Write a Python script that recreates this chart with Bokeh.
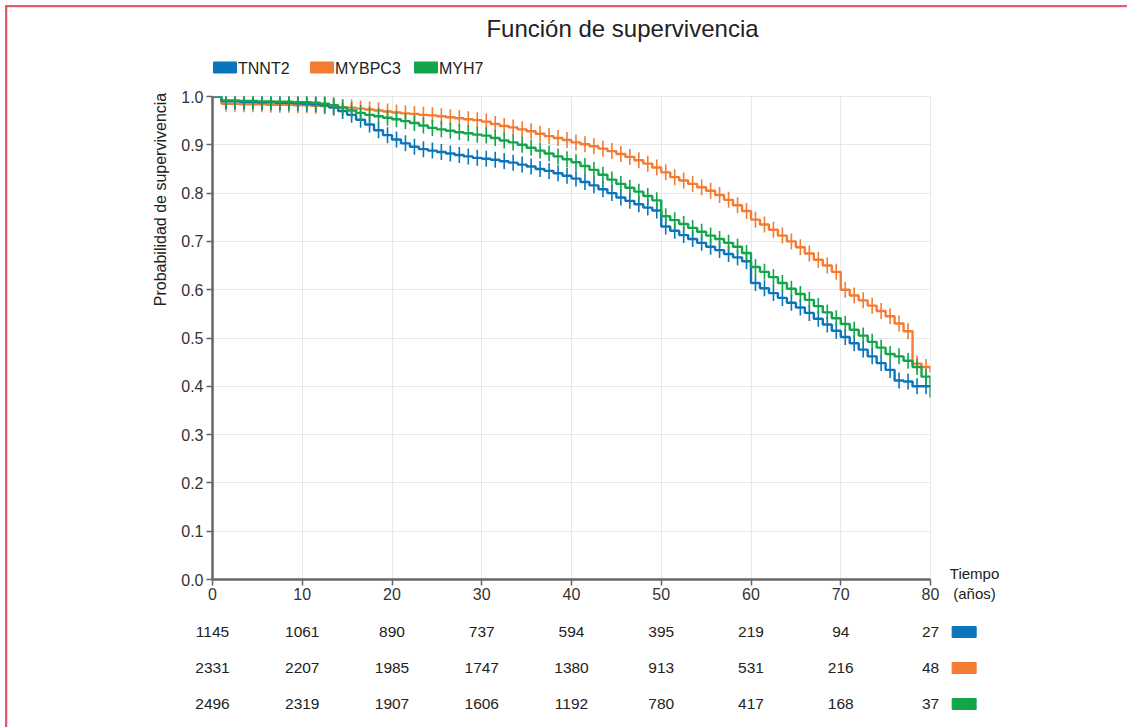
import numpy as np
from bokeh.plotting import figure
from bokeh.models import Range1d, FixedTicker, PrintfTickFormatter
from bokeh.layouts import column, row
from bokeh.embed import file_html
from bokeh.resources import INLINE
from bokeh.core.properties import value

# ---------------- data ----------------
years = list(range(0, 81))

tnnt2 = [1.000, 0.990, 0.990, 0.989, 0.989, 0.988, 0.988, 0.987, 0.987, 0.986,
         0.985, 0.984, 0.982, 0.977, 0.970, 0.962, 0.952, 0.942, 0.930, 0.920,
         0.911, 0.903, 0.896, 0.891, 0.888, 0.885, 0.882, 0.879, 0.876, 0.873,
         0.871, 0.869, 0.866, 0.863, 0.859, 0.855, 0.850, 0.846, 0.841, 0.836,
         0.830, 0.823, 0.816, 0.808, 0.800, 0.791, 0.784, 0.777, 0.770, 0.764,
         0.731, 0.722, 0.713, 0.705, 0.697, 0.689, 0.682, 0.674, 0.667, 0.659,
         0.614, 0.603, 0.593, 0.583, 0.573, 0.563, 0.552, 0.540, 0.528, 0.515,
         0.502, 0.489, 0.476, 0.462, 0.448, 0.434, 0.412, 0.410, 0.400, 0.400,
         0.398]

mybpc3 = [1.000, 0.985, 0.985, 0.984, 0.984, 0.984, 0.983, 0.983, 0.983, 0.982,
          0.982, 0.981, 0.980, 0.979, 0.978, 0.977, 0.975, 0.973, 0.971, 0.969,
          0.967, 0.965, 0.964, 0.962, 0.961, 0.959, 0.957, 0.955, 0.953, 0.951,
          0.948, 0.943, 0.939, 0.936, 0.932, 0.928, 0.923, 0.918, 0.914, 0.910,
          0.905, 0.901, 0.897, 0.892, 0.887, 0.881, 0.875, 0.868, 0.861, 0.853,
          0.843, 0.833, 0.826, 0.819, 0.812, 0.805, 0.796, 0.786, 0.775, 0.763,
          0.745, 0.735, 0.724, 0.712, 0.700, 0.688, 0.675, 0.662, 0.650, 0.637,
          0.600, 0.588, 0.578, 0.567, 0.556, 0.545, 0.530, 0.514, 0.447, 0.440,
          0.429]

myh7 = [1.000, 0.992, 0.992, 0.991, 0.991, 0.990, 0.990, 0.989, 0.989, 0.988,
        0.988, 0.987, 0.985, 0.982, 0.977, 0.971, 0.966, 0.962, 0.959, 0.956,
        0.953, 0.949, 0.945, 0.940, 0.935, 0.932, 0.929, 0.926, 0.924, 0.921,
        0.919, 0.914, 0.909, 0.905, 0.900, 0.894, 0.888, 0.882, 0.876, 0.870,
        0.864, 0.856, 0.848, 0.838, 0.828, 0.819, 0.811, 0.803, 0.794, 0.785,
        0.752, 0.744, 0.736, 0.728, 0.720, 0.712, 0.705, 0.697, 0.689, 0.676,
        0.647, 0.637, 0.626, 0.614, 0.602, 0.591, 0.579, 0.566, 0.553, 0.541,
        0.529, 0.517, 0.505, 0.492, 0.480, 0.467, 0.462, 0.453, 0.440, 0.420,
        0.377]

series_names = ["TNNT2", "MYBPC3", "MYH7"]
series_colors = ["#0b75bb", "#f37b32", "#13a54b"]

risk_times = [0, 10, 20, 30, 40, 50, 60, 70, 80]
risk_tnnt2 = [1145, 1061, 890, 737, 594, 395, 219, 94, 27]
risk_mybpc3 = [2331, 2207, 1985, 1747, 1380, 913, 531, 216, 48]
risk_myh7 = [2496, 2319, 1907, 1606, 1192, 780, 417, 168, 37]

x_ticks = [0, 10, 20, 30, 40, 50, 60, 70, 80]
y_ticks = [0.0, 0.1, 0.2, 0.3, 0.4, 0.5, 0.6, 0.7, 0.8, 0.9, 1.0]

title_text = "Función de supervivencia"
ylabel_text = "Probabilidad de supervivencia"
xlabel_lines = ["Tiempo", "(años)"]

FONT = "Liberation Sans"
TXT = "#222222"
BORDER = "#e9596c"

# ---------------- geometry (page pixels) ----------------
W, H = 1127, 727
FRAME_L, FRAME_R, FRAME_T, FRAME_B = 212, 930, 96, 579
HEAD_H = 88
MID_H = 519                 # 88 .. 607
TAB_H = H - HEAD_H - MID_H  # 607 .. 727
STRIP_W = 172
SIDE_W = 187
MAIN_W = W - STRIP_W - SIDE_W


def pixel_fig(w, h):
    f = figure(width=w, height=h, x_range=Range1d(0, w), y_range=Range1d(h, 0),
               output_backend="svg", toolbar_location=None,
               x_axis_location=None, y_axis_location=None,
               min_border_left=0, min_border_right=0, min_border_top=0,
               min_border_bottom=0)
    f.frame_align = False
    f.grid.visible = False
    f.outline_line_color = None
    f.background_fill_color = "white"
    f.border_fill_color = "white"
    return f


# ---------------- header: title + legend ----------------
head = pixel_fig(W, HEAD_H)
head.quad(left=[5.2, 5.2], right=[W + 5, 6.8], top=[5.2, 5.2], bottom=[6.8, HEAD_H + 5],
          fill_color=BORDER, line_color=None)
head.text(x=[622], y=[28], text=[title_text], text_align="center",
          text_baseline="middle", text_font=value(FONT), text_font_size="24px",
          text_color=TXT)
leg_x = [213, 310, 414]
head.rect(x=[lx + 11.5 for lx in leg_x], y=[67] * 3, width=23, height=11,
          fill_color=series_colors, line_color=series_colors)
head.text(x=[lx + 24.5 for lx in leg_x], y=[67.5] * 3, text=series_names,
          text_align="left", text_baseline="middle", text_font=value(FONT),
          text_font_size="16px", text_color=TXT)

# ---------------- left strip: y label + border ----------------
strip = pixel_fig(STRIP_W, MID_H)
strip.quad(left=[5.2], right=[6.8], top=[-5], bottom=[MID_H + 5],
           fill_color=BORDER, line_color=None)
strip.text(x=[160], y=[199 - HEAD_H], text=[ylabel_text], angle=np.pi / 2,
           text_align="center", text_baseline="middle", text_font=value(FONT),
           text_font_size="16px", text_color=TXT)

# ---------------- main KM plot ----------------
p = figure(width=MAIN_W, height=MID_H, x_range=Range1d(0, 80), y_range=Range1d(0, 1.0),
           output_backend="svg", toolbar_location=None,
           min_border_left=FRAME_L - STRIP_W, min_border_right=STRIP_W + MAIN_W - FRAME_R,
           min_border_top=FRAME_T - HEAD_H, min_border_bottom=HEAD_H + MID_H - FRAME_B)
p.frame_align = False
p.background_fill_color = "white"
p.border_fill_color = "white"
p.outline_line_color = "#e8e8e8"

p.xgrid.ticker = FixedTicker(ticks=x_ticks)
p.ygrid.ticker = FixedTicker(ticks=y_ticks)
p.grid.grid_line_color = "#e8e8e8"
p.grid.grid_line_width = 1

p.xaxis.ticker = FixedTicker(ticks=x_ticks)
p.yaxis.ticker = FixedTicker(ticks=y_ticks)
p.yaxis.formatter = PrintfTickFormatter(format="%.1f")
for ax in (p.xaxis[0], p.yaxis[0]):
    ax.axis_line_color = "#666666"
    ax.axis_line_width = 2.5
    ax.major_tick_line_color = "#666666"
    ax.major_tick_line_width = 1.5
    ax.major_tick_out = 6
    ax.major_tick_in = 0
    ax.minor_tick_line_color = None
    ax.major_label_text_font = FONT
    ax.major_label_text_font_size = "16px"
    ax.major_label_text_color = "#333333"
p.xaxis.major_label_standoff = 2
p.yaxis.major_label_standoff = 3

order = [1, 0, 2]
all_series = [tnnt2, mybpc3, myh7]
for i in order:
    s = all_series[i]
    c = series_colors[i]
    p.step(x=years, y=s, mode="after", line_color=c, line_width=2.4)
    cx = [t + 0.5 for t in years[1:80]]
    cy = s[1:80]
    p.scatter(x=cx, y=cy, marker="dash", angle=np.pi / 2, size=16,
              line_color=c, line_width=1.6)

# ---------------- right side: x axis title ----------------
side = pixel_fig(SIDE_W, MID_H)
side_x0 = STRIP_W + MAIN_W
side.text(x=[974 - side_x0] * 2, y=[573 - HEAD_H, 593 - HEAD_H], text=xlabel_lines,
          text_align="center", text_baseline="middle", text_font=value(FONT),
          text_font_size="15px", text_color=TXT)

# ---------------- risk table ----------------
px_per_year = (FRAME_R - FRAME_L) / 80.0
row_px = 36.0
first_row = 631.5 - (HEAD_H + MID_H)
t = figure(width=W, height=TAB_H,
           x_range=Range1d(-FRAME_L / px_per_year, (W - FRAME_L) / px_per_year),
           y_range=Range1d(start=(TAB_H - first_row) / row_px, end=-first_row / row_px),
           output_backend="svg", toolbar_location=None,
           x_axis_location=None, y_axis_location=None,
           min_border_left=0, min_border_right=0, min_border_top=0,
           min_border_bottom=0)
t.frame_align = False
t.grid.visible = False
t.outline_line_color = None
t.background_fill_color = "white"
t.border_fill_color = "white"

for r, counts in enumerate([risk_tnnt2, risk_mybpc3, risk_myh7]):
    t.text(x=risk_times, y=[r] * len(risk_times), text=[str(n) for n in counts],
           text_align="center", text_baseline="middle",
           text_font=value(FONT), text_font_size="15.5px", text_color=TXT)

t.rect(x=[83.75] * 3, y=[0, 1, 2], width=24, height=11, width_units="screen",
       height_units="screen", fill_color=series_colors, line_color=series_colors)
border_t = (6 - FRAME_L) / px_per_year
t.quad(left=[border_t - 0.8 / px_per_year], right=[border_t + 0.8 / px_per_year],
       top=[-5], bottom=[5], fill_color=BORDER, line_color=None)

frame_css = (":host { position: relative; } "
             ":host::after { content: ''; position: absolute; left: 5px; top: 5px; "
             "right: 0px; bottom: 0px; border-left: 2px solid " + BORDER + "; "
             "border-top: 2px solid " + BORDER + "; pointer-events: none; z-index: 50; }")

layout = column(head, row(strip, p, side), t, stylesheets=[frame_css])
open("out.html", "w").write(file_html(layout, INLINE))
